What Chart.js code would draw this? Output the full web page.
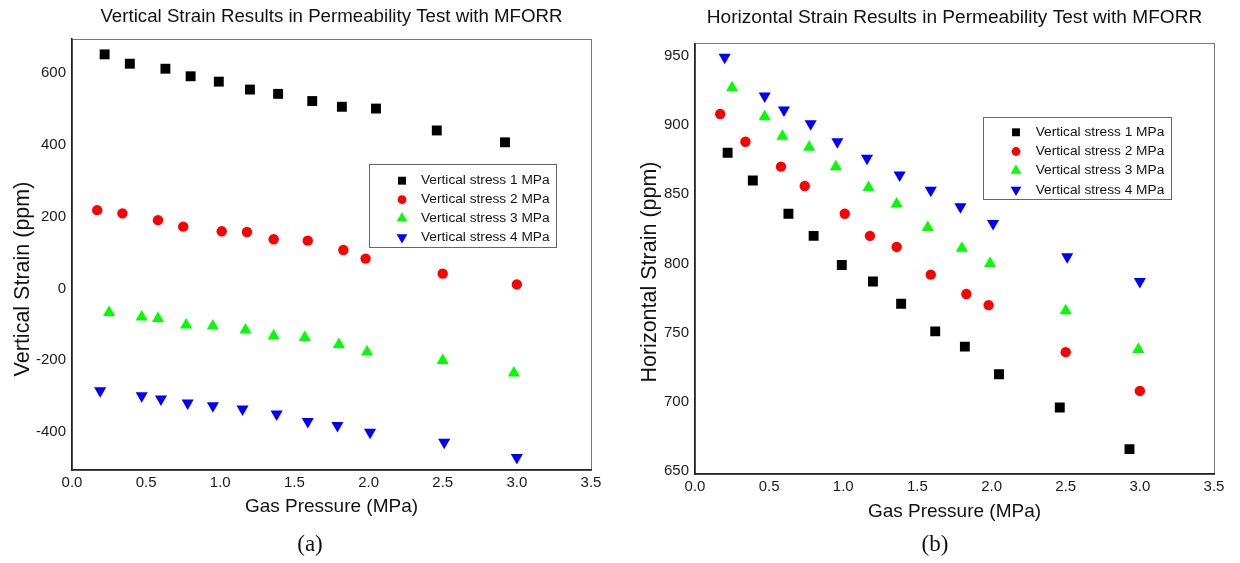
<!DOCTYPE html>
<html>
<head>
<meta charset="utf-8">
<script src="https://cdn.jsdelivr.net/npm/chart.js@4.4.1/dist/chart.umd.min.js"></script>
<style>
    body { margin: 0; background: #fff; width: 1240px; height: 563px; position: relative; overflow: hidden; }
    canvas { position: absolute; top: 0; }
    #vertChart { left: 0; }
    #horzChart { left: 620px; }
    .cap { position: absolute; top: 530px; width: 60px; text-align: center; color: #111;
           font: 23px/28px "Liberation Serif", "Times New Roman", serif; }
</style>
</head>
<body>
<canvas id="vertChart" width="620" height="563"></canvas>
<canvas id="horzChart" width="620" height="563"></canvas>
<div class="cap" style="left:280px">(a)</div>
<div class="cap" style="left:905px">(b)</div>

<script>
// --- data ---
const seriesNames = ['Vertical stress 1 MPa', 'Vertical stress 2 MPa', 'Vertical stress 3 MPa', 'Vertical stress 4 MPa'];

// (a) vertical strain, ppm
const vertP1 = [0.22, 0.39, 0.63, 0.80, 0.99, 1.20, 1.39, 1.62, 1.82, 2.05, 2.46, 2.92];
const vertS1 = [652, 626, 612, 591, 576, 554, 542, 522, 506, 501, 440, 407];
const vertP2 = [0.17, 0.34, 0.58, 0.75, 1.01, 1.18, 1.36, 1.59, 1.83, 1.98, 2.50, 3.00];
const vertS2 = [218, 209, 190, 172, 159, 157, 137, 133, 107, 83, 41, 11];
const vertP3 = [0.25, 0.47, 0.58, 0.77, 0.95, 1.17, 1.36, 1.57, 1.80, 1.99, 2.50, 2.98];
const vertS3 = [-67, -80, -84, -102, -105, -116, -133, -137, -156, -177, -201, -236];
const vertP4 = [0.19, 0.47, 0.60, 0.78, 0.95, 1.15, 1.38, 1.59, 1.79, 2.01, 2.51, 3.00];
const vertS4 = [-285, -299, -308, -319, -327, -336, -350, -371, -382, -401, -429, -471];

// (b) horizontal strain, ppm
const horzP1 = [0.22, 0.39, 0.63, 0.80, 0.99, 1.20, 1.39, 1.62, 1.82, 2.05, 2.46, 2.93];
const horzS1 = [880, 860, 836, 820, 799, 787, 771, 751, 740, 720, 696, 666];
const horzP2 = [0.17, 0.34, 0.58, 0.74, 1.01, 1.18, 1.36, 1.59, 1.83, 1.98, 2.50, 3.00];
const horzS2 = [908, 888, 870, 856, 836, 820, 812, 792, 778, 770, 736, 708];
const horzP3 = [0.25, 0.47, 0.59, 0.77, 0.95, 1.17, 1.36, 1.57, 1.80, 1.99, 2.50, 2.99];
const horzS3 = [927, 906, 892, 884, 870, 855, 843, 826, 811, 800, 766, 738];
const horzP4 = [0.20, 0.47, 0.60, 0.78, 0.96, 1.16, 1.38, 1.59, 1.79, 2.01, 2.51, 3.00];
const horzS4 = [949, 921, 911, 901, 888, 876, 864, 853, 841, 829, 805, 787];

const vertTicks = [-400, -200, 0, 200, 400, 600];
const horzTicks = [650, 700, 750, 800, 850, 900, 950];

// --- look ---
const FONT = '"Liberation Sans", Arial, sans-serif';
const colors = ['#000000', '#ff0000', '#00ff00', '#0000ff'];
const styles = ['rect', 'circle', 'triangle', 'triangle'];
const rotations = [0, 0, 0, 180];
const radii = [7, 5.2, 7, 7];
const legendRadii = [5.6, 4.4, 6.2, 6.2];

const pts = (xs, ys) => xs.map((x, i) => ({x: x, y: ys[i]}));

function makeSets(xList, yList) {
    return seriesNames.map((name, i) => ({
        label: name,
        data: pts(xList[i], yList[i]),
        backgroundColor: colors[i],
        borderWidth: 0,
        pointStyle: styles[i],
        rotation: rotations[i],
        pointRadius: radii[i],
        pointHoverRadius: radii[i]
    }));
}

// grey box round the plot; left/bottom get the darker axis borders on top
const framePlugin = {
    id: 'frame',
    beforeDraw(chart) {
        const a = chart.chartArea, ctx = chart.ctx;
        ctx.save();
        ctx.strokeStyle = '#777';
        ctx.lineWidth = 1;
        ctx.strokeRect(Math.round(a.left) + 0.5, Math.round(a.top) + 0.5, Math.round(a.right - a.left), Math.round(a.bottom - a.top));
        ctx.restore();
    }
};

const boxLegend = {
    id: 'boxLegend',
    afterDatasetsDraw(chart, args, o) {
        const ctx = chart.ctx;
        ctx.save();
        ctx.fillStyle = '#fff';
        ctx.fillRect(o.x, o.y, o.w, o.h);
        ctx.strokeStyle = '#666';
        ctx.lineWidth = 1;
        ctx.strokeRect(o.x + 0.5, o.y + 0.5, o.w, o.h);
        ctx.font = '13.7px ' + FONT;
        ctx.textBaseline = 'middle';
        ctx.textAlign = 'left';
        chart.data.datasets.forEach((ds, i) => {
            const y = o.y + o.firstRow + i * o.rowGap;
            ctx.fillStyle = ds.backgroundColor;
            Chart.helpers.drawPoint(ctx, {
                pointStyle: ds.pointStyle, rotation: ds.rotation,
                radius: legendRadii[i], borderWidth: 0
            }, o.markerX, y);
            ctx.fillStyle = '#111';
            ctx.fillText(ds.label, o.textX, y);
        });
        ctx.restore();
    }
};

const sideTitle = {
    id: 'sideTitle',
    afterDraw(chart, args, o) {
        const ctx = chart.ctx;
        ctx.save();
        ctx.translate(o.x, o.y);
        ctx.rotate(-Math.PI / 2);
        ctx.font = '21.5px ' + FONT;
        ctx.fillStyle = '#111';
        ctx.textAlign = 'center';
        ctx.textBaseline = 'middle';
        ctx.fillText(o.text, 0, 0);
        ctx.restore();
    }
};

function buildChart(id, cfg) {
    return new Chart(document.getElementById(id), {
        type: 'scatter',
        data: { datasets: makeSets(cfg.xs, cfg.ys) },
        plugins: [framePlugin, boxLegend, sideTitle],
        options: {
            responsive: false,
            animation: false,
            events: [],
            layout: { padding: { top: 0, left: 0, bottom: 0, right: cfg.padRight } },
            plugins: {
                legend: { display: false },
                tooltip: { enabled: false },
                title: {
                    display: true, text: cfg.title, fullSize: false, color: '#111',
                    font: { family: FONT, size: cfg.titleSize, weight: 'normal' },
                    padding: { top: 6, bottom: cfg.titleGap }
                },
                boxLegend: cfg.legend,
                sideTitle: cfg.yTitle
            },
            scales: {
                x: {
                    type: 'linear', min: 0, max: 3.5,
                    grid: { display: false, drawTicks: false },
                    border: { display: true, color: '#222', width: 1.5 },
                    ticks: {
                        stepSize: 0.5, padding: 4, color: '#1a1a1a', autoSkip: false,
                        font: { family: FONT, size: 15 },
                        callback: v => Number(v).toFixed(1)
                    },
                    title: {
                        display: true, text: 'Gas Pressure (MPa)', color: '#111',
                        font: { family: FONT, size: 19 },
                        padding: { top: 0, bottom: cfg.xTitleBottom }
                    },
                    afterFit: s => { s.height = cfg.xHeight; }
                },
                y: {
                    type: 'linear', min: cfg.yMin, max: cfg.yMax,
                    grid: { display: false, drawTicks: false },
                    border: { display: true, color: '#222', width: 1.5 },
                    ticks: {
                        padding: 6, color: '#1a1a1a', autoSkip: false,
                        font: { family: FONT, size: 15 },
                        callback: v => String(v)
                    },
                    afterBuildTicks: s => { s.ticks = cfg.yTicks.map(v => ({ value: v })); },
                    afterFit: s => { s.width = cfg.yWidth; }
                }
            }
        }
    });
}

buildChart('vertChart', {
    xs: [vertP1, vertP2, vertP3, vertP4],
    ys: [vertS1, vertS2, vertS3, vertS4],
    title: 'Vertical Strain Results in Permeability Test with MFORR',
    titleSize: 18.7, titleGap: 10.5,
    padRight: 29, yWidth: 72, xHeight: 93, xTitleBottom: 44.6,
    yMin: -506, yMax: 695, yTicks: vertTicks,
    legend: { x: 369, y: 164, w: 187, h: 83, firstRow: 16.7, rowGap: 18.9, markerX: 402, textX: 421 },
    yTitle: { text: 'Vertical Strain (ppm)', x: 23, y: 279 }
});

buildChart('horzChart', {
    xs: [horzP1, horzP2, horzP3, horzP4],
    ys: [horzS1, horzS2, horzS3, horzS4],
    title: 'Horizontal Strain Results in Permeability Test with MFORR',
    titleSize: 19.1, titleGap: 14.5,
    padRight: 26, yWidth: 75, xHeight: 89, xTitleBottom: 39.6,
    yMin: 648, yMax: 959, yTicks: horzTicks,
    legend: { x: 363, y: 117, w: 188, h: 82, firstRow: 15.3, rowGap: 19.2, markerX: 396, textX: 415.7 },
    yTitle: { text: 'Horizontal Strain (ppm)', x: 30, y: 272 }
});
</script>
</body>
</html>
